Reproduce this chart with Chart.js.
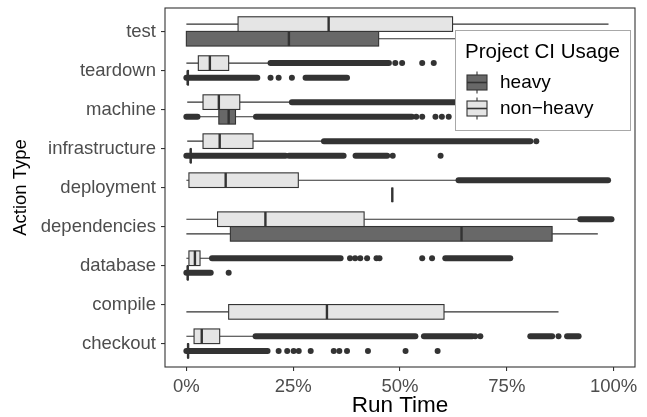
<!DOCTYPE html>
<html><head><meta charset="utf-8">
<script src="https://cdn.jsdelivr.net/npm/chart.js@4.4.1/dist/chart.umd.min.js"></script>
<style>html,body{margin:0;padding:0;background:#fff}#wrap{width:647px;height:417px;position:relative}</style>
</head><body><div id="wrap"><canvas id="c"></canvas></div>
<script>
// ---- data ----
const categories = ['test','teardown','machine','infrastructure','deployment','dependencies','database','compile','checkout'];
const groups = ['heavy','non-heavy'];
const legendTitle = 'Project CI Usage';
const xTitle = 'Run Time';
const yTitle = 'Action Type';
const xTicks = [0,25,50,75,100];

// [lower whisker, Q1, median, Q3, upper whisker] in %, per category (null = group absent)
const heavyStats = [
  [0, 0, 24, 45, 95],
  [0.3, 0.3, 0.3, 0.5, 0.6],
  [2.8, 7.6, 9.9, 11.5, 16.2],
  [0.9, 1.0, 1.0, 1.1, 1.2],
  [48.2, 48.2, 48.2, 48.2, 48.2],
  [0, 10.3, 64.4, 85.6, 96.3],
  [0.2, 0.3, 0.3, 0.4, 0.5],
  null,
  [0.2, 0.3, 0.4, 0.5, 0.6]
];
const nonHeavyStats = [
  [0, 12.1, 33.3, 62.3, 98.8],
  [0, 2.8, 5.5, 9.9, 19.5],
  [0.2, 3.9, 7.6, 12.5, 24.5],
  [0.2, 3.9, 7.8, 15.6, 32.0],
  [0, 0.6, 9.2, 26.2, 63.5],
  [0, 7.3, 18.5, 41.6, 92.0],
  [0, 0.6, 2.0, 3.2, 5.8],
  [0, 9.9, 32.9, 60.3, 87.1],
  [0, 1.8, 3.6, 7.8, 16.0]
];
// dense runs of outliers [from, to] in %, per category
const heavyOutlierRuns = [
  [],
  [[0, 16.6], [27.9, 37.6]],
  [[0, 2.6], [16.3, 52.8]],
  [[0, 23.2], [24.0, 36.8], [39.6, 47.0]],
  [],
  [],
  [[0, 5.7]],
  [],
  [[0, 19.0]]
];
const nonHeavyOutlierRuns = [
  [],
  [[19.7, 47.4]],
  [[24.7, 99.0]],
  [[32.2, 80.5]],
  [[63.7, 98.7]],
  [[92.2, 99.5]],
  [[6.0, 36.1], [60.6, 75.8]],
  [],
  [[16.2, 53.6], [55.6, 66.9], [80.5, 85.6], [89.1, 91.8]]
];
// isolated outliers in %, per category
const heavyOutlierPoints = [
  [],
  [19.7, 21.6, 24.7],
  [53.8, 55.2, 58.3, 59.8, 61.4],
  [48.3, 59.5],
  [],
  [],
  [9.9],
  [],
  [21.6, 23.6, 25.1, 26.3, 29.1, 34.5, 35.8, 37.6, 42.5, 51.3, 58.8]
];
const nonHeavyOutlierPoints = [
  [],
  [48.9, 50.5, 55.2, 57.9],
  [],
  [81.9],
  [],
  [],
  [38.3, 39.5, 40.7, 42.3, 44.5, 45.2, 55.2, 57.5],
  [],
  [67.6, 68.8, 87.1]
];

// ---- styling / layout helpers ----
const FONT = "'Liberation Sans', Arial, Helvetica, sans-serif";
const groupFill = ['#686868', '#e5e5e5'];
const statsByGroup = [heavyStats, nonHeavyStats];
const runsByGroup = [heavyOutlierRuns, nonHeavyOutlierRuns];
const pointsByGroup = [heavyOutlierPoints, nonHeavyOutlierPoints];
const DODGE = 0.75, SLOT = DODGE / 2;

function slotCenter(ci, gi) {
  const present = groups.map((g, k) => statsByGroup[k][ci] != null);
  const both = present[0] && present[1];
  // heavy -> lower slot, non-heavy -> upper slot; a lone group takes the first (lower) slot
  if (!both) return ci + SLOT / 2;
  return gi === 0 ? ci + SLOT / 2 : ci - SLOT / 2;
}

const datasets = [];
groups.forEach((g, gi) => {
  categories.forEach((c, ci) => {
    runsByGroup[gi][ci].forEach(r => {
      const y = slotCenter(ci, gi);
      datasets.push({
        data: [{x: r[0], y}, {x: r[1], y}],
        showLine: true, borderColor: '#333333', borderWidth: 6,
        borderCapStyle: 'round', pointRadius: 0, order: 2
      });
    });
  });
  const pts = [];
  categories.forEach((c, ci) => {
    pointsByGroup[gi][ci].forEach(v => pts.push({x: v, y: slotCenter(ci, gi)}));
  });
  datasets.push({
    data: pts, pointRadius: 3, pointBackgroundColor: '#333333',
    pointBorderWidth: 0, borderWidth: 0, showLine: false, order: 1
  });
});

const boxPlugin = {
  id: 'boxes',
  afterDatasetsDraw(chart) {
    const {ctx, scales: {x, y}} = chart;
    ctx.save();
    ctx.strokeStyle = '#333333';
    groups.forEach((g, gi) => {
      categories.forEach((c, ci) => {
        const s = statsByGroup[gi][ci];
        if (!s) return;
        const yc = y.getPixelForValue(slotCenter(ci, gi));
        const yt = y.getPixelForValue(slotCenter(ci, gi) - SLOT / 2);
        const yb = y.getPixelForValue(slotCenter(ci, gi) + SLOT / 2);
        const [lo, q1, md, q3, hi] = s.map(v => x.getPixelForValue(v));
        ctx.lineWidth = 1.1;
        ctx.beginPath();
        ctx.moveTo(lo, yc); ctx.lineTo(q1, yc);
        ctx.moveTo(q3, yc); ctx.lineTo(hi, yc);
        ctx.stroke();
        ctx.fillStyle = groupFill[gi];
        ctx.fillRect(q1, yt, q3 - q1, yb - yt);
        ctx.strokeRect(q1, yt, q3 - q1, yb - yt);
        ctx.lineWidth = 2.4;
        ctx.beginPath();
        ctx.moveTo(md, yt); ctx.lineTo(md, yb);
        ctx.stroke();
      });
    });
    // panel border
    const a = chart.chartArea;
    ctx.lineWidth = 1.1;
    ctx.strokeStyle = '#333333';
    ctx.strokeRect(a.left, a.top, a.right - a.left, a.bottom - a.top);
    ctx.restore();
  },
  afterDraw(chart) {
    const ctx = chart.ctx;
    ctx.save();
    const L = 455, T = 30, W = 175, H = 100;
    ctx.fillStyle = '#ffffff';
    ctx.fillRect(L, T, W, H);
    ctx.strokeStyle = '#a8a8a8';
    ctx.lineWidth = 1;
    ctx.strokeRect(L + 0.5, T + 0.5, W, H);
    ctx.fillStyle = '#000000';
    ctx.textBaseline = 'middle';
    ctx.textAlign = 'left';
    ctx.font = `20.5px ${FONT}`;
    ctx.fillText(legendTitle, 465, 52);
    ctx.font = `19px ${FONT}`;
    const rows = [82.5, 108.5];
    groups.forEach((g, gi) => {
      const cy = rows[gi];
      ctx.strokeStyle = '#333333';
      ctx.lineWidth = 1.1;
      ctx.beginPath();
      ctx.moveTo(477, cy - 11); ctx.lineTo(477, cy + 11);
      ctx.stroke();
      ctx.fillStyle = groupFill[gi];
      ctx.fillRect(467, cy - 7.5, 20, 15);
      ctx.strokeRect(467, cy - 7.5, 20, 15);
      ctx.lineWidth = 1.6;
      ctx.beginPath();
      ctx.moveTo(467, cy); ctx.lineTo(487, cy);
      ctx.stroke();
      ctx.fillStyle = '#000000';
      ctx.fillText(g.replace('-', '\u2212'), 500, cy);
    });
    ctx.restore();
  }
};

new Chart(document.getElementById('c'), {
  type: 'scatter',
  data: {datasets},
  options: {
    responsive: true, maintainAspectRatio: false, animation: false, events: [],
    layout: {padding: {top: 8, right: 12, left: 0, bottom: 0}},
    plugins: {legend: {display: false}, tooltip: {enabled: false}},
    scales: {
      x: {
        type: 'linear', min: -5, max: 105,
        afterBuildTicks: s => { s.ticks = xTicks.map(v => ({value: v})); },
        afterFit: s => { s.height = 50; s.paddingLeft = 0; s.paddingRight = 0; },
        ticks: {callback: v => v + '%', color: '#4d4d4d', font: {family: FONT, size: 18.5}, padding: 5, maxRotation: 0, autoSkip: false},
        grid: {display: true, drawOnChartArea: false, drawTicks: true, tickLength: 4, tickColor: '#333333', lineWidth: 1.1},
        border: {display: false},
        title: {display: true, text: xTitle, color: '#000000', font: {family: FONT, size: 22.5, lineHeight: 1.0}, padding: {top: 0, bottom: 0}}
      },
      y: {
        type: 'linear', min: -0.6, max: 8.6, reverse: true,
        afterBuildTicks: s => { s.ticks = categories.map((c, i) => ({value: i})); },
        afterFit: s => { s.width = 165; s.paddingTop = 0; s.paddingBottom = 0; },
        ticks: {callback: v => categories[v], color: '#4d4d4d', font: {family: FONT, size: 18.5}, padding: 5, autoSkip: false},
        grid: {display: true, drawOnChartArea: false, drawTicks: true, tickLength: 4, tickColor: '#333333', lineWidth: 1.1},
        border: {display: false},
        title: {display: true, text: yTitle, color: '#000000', font: {family: FONT, size: 18.5, lineHeight: 1.2}, padding: {top: 10, bottom: 0}}
      }
    }
  },
  plugins: [boxPlugin]
});
</script>
</body></html>
